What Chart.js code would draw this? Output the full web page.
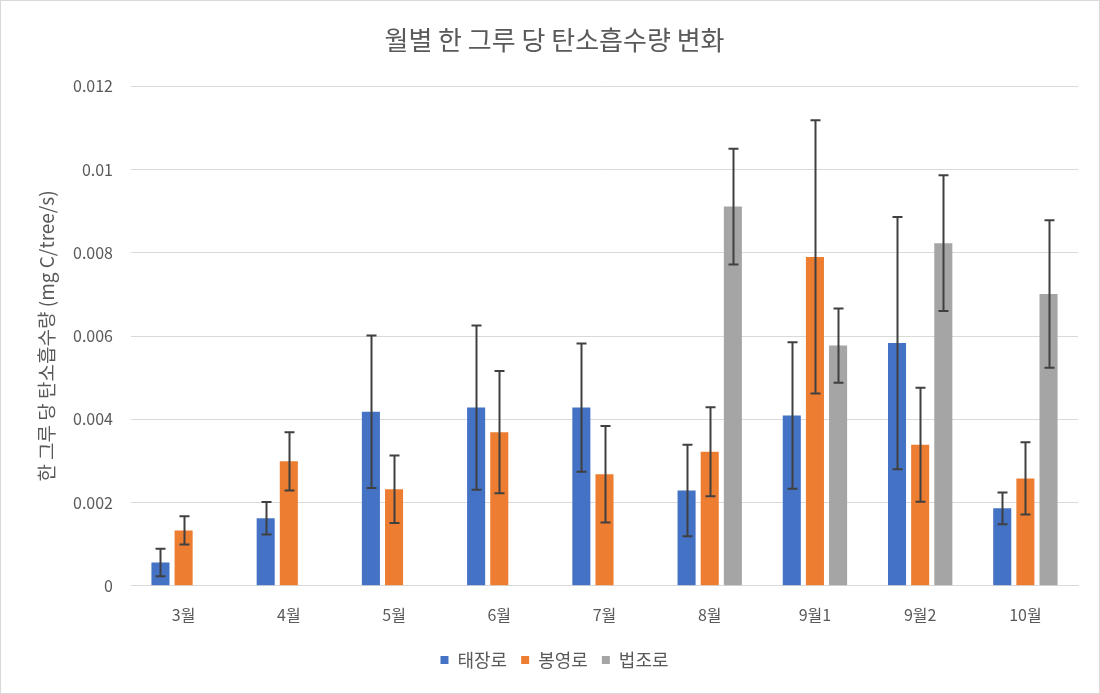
<!DOCTYPE html>
<html>
<head>
<meta charset="utf-8">
<script src="https://cdn.jsdelivr.net/npm/chart.js@4.4.0/dist/chart.umd.min.js"></script>
<style>
    html, body { margin: 0; padding: 0; background: #ffffff; }
    #wrap { position: relative; width: 1098px; height: 692px; border: 1px solid #d9d9d9; }
</style>
</head>
<body>
<div id="wrap"><canvas id="chart"></canvas></div>
<script>
// Categories and series
const months = ['3월', '4월', '5월', '6월', '7월', '8월', '9월1', '9월2', '10월'];
const taejang = [0.00056, 0.00162, 0.00418, 0.00428, 0.00428, 0.00229, 0.00409, 0.00583, 0.00186];
const bongyeong = [0.00133, 0.00299, 0.00232, 0.00369, 0.00268, 0.00322, 0.0079, 0.00339, 0.00258];
const beopjo = [null, null, null, null, null, 0.00911, 0.00577, 0.00823, 0.00701];

// Error bar half-lengths
const taejangErr = [0.00033, 0.00039, 0.00183, 0.00197, 0.00154, 0.0011, 0.00176, 0.00303, 0.00038];
const bongyeongErr = [0.00034, 0.0007, 0.00081, 0.00147, 0.00116, 0.00107, 0.00328, 0.00137, 0.00087];
const beopjoErr = [null, null, null, null, null, 0.00139, 0.00089, 0.00163, 0.00177];

const textColor = '#595959';
const fontFamily = '"Noto Sans CJK KR", "Noto Sans", sans-serif';

// Draw the error bars on top of the bars
const errorBarPlugin = {
    id: 'errorBars',
    afterDatasetsDraw(chart) {
        const ctx = chart.ctx;
        const yScale = chart.scales.y;
        ctx.save();
        ctx.strokeStyle = '#404040';
        ctx.lineWidth = 2;
        chart.data.datasets.forEach((ds, i) => {
            const meta = chart.getDatasetMeta(i);
            meta.data.forEach((bar, j) => {
                const v = ds.data[j];
                const e = ds.errors[j];
                if (v == null || e == null) return;
                const x = Math.round(bar.x) + 0.5;
                const top = yScale.getPixelForValue(v + e);
                const bottom = yScale.getPixelForValue(v - e);
                ctx.beginPath();
                ctx.moveTo(x, top);
                ctx.lineTo(x, bottom);
                ctx.moveTo(x - 5, top);
                ctx.lineTo(x + 5, top);
                ctx.moveTo(x - 5, bottom);
                ctx.lineTo(x + 5, bottom);
                ctx.stroke();
            });
        });
        ctx.restore();
    }
};

const ctx = document.getElementById('chart').getContext('2d');

const chart = new Chart(ctx, {
    type: 'bar',
    data: {
        labels: months,
        datasets: [
            { label: '태장로', data: taejang, errors: taejangErr, backgroundColor: '#4472c4' },
            { label: '봉영로', data: bongyeong, errors: bongyeongErr, backgroundColor: '#ed7d31' },
            { label: '법조로', data: beopjo, errors: beopjoErr, backgroundColor: '#a5a5a5' }
        ]
    },
    options: {
        responsive: true,
        maintainAspectRatio: false,
        animation: false,
        categoryPercentage: 0.66,
        barPercentage: 0.78,
        layout: {
            padding: { left: 30, right: 21, top: 24, bottom: 14 }
        },
        scales: {
            x: {
                grid: { display: false },
                border: { color: '#d9d9d9', width: 1 },
                ticks: {
                    color: textColor,
                    font: { family: fontFamily, size: 16 },
                    padding: 12
                }
            },
            y: {
                min: 0,
                max: 0.012,
                afterFit: function(scale) {
                    scale.width = 100; // Keep plot area left edge fixed
                },
                grid: { color: '#d9d9d9', drawTicks: false },
                border: { display: false },
                ticks: {
                    stepSize: 0.002,
                    color: textColor,
                    padding: 18,
                    font: { family: fontFamily, size: 16 },
                    callback: function(value) {
                        return String(+value.toFixed(3));
                    }
                },
                title: {
                    display: true,
                    text: '한 그루 당 탄소흡수량 (mg C/tree/s)',
                    color: textColor,
                    font: { family: fontFamily, size: 19 }
                }
            }
        },
        plugins: {
            title: {
                display: true,
                text: '월별 한 그루 당 탄소흡수량 변화',
                color: textColor,
                font: { family: fontFamily, size: 26, weight: 'normal' },
                padding: { top: 0, bottom: 30 }
            },
            legend: {
                position: 'bottom',
                labels: {
                    color: textColor,
                    font: { family: fontFamily, size: 18 },
                    usePointStyle: true,
                    pointStyle: 'rect',
                    boxWidth: 8,
                    boxHeight: 8,
                    padding: 14
                }
            },
            tooltip: { enabled: false }
        }
    },
    plugins: [errorBarPlugin]
});
</script>
</body>
</html>
